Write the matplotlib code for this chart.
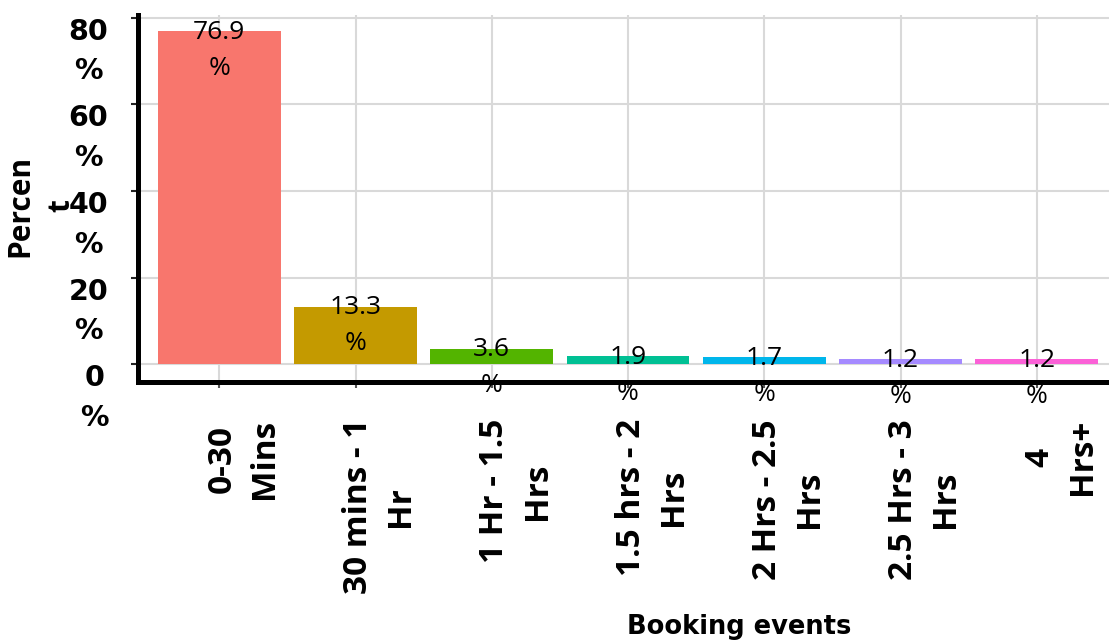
import matplotlib.pyplot as plt
from matplotlib.transforms import ScaledTranslation

categories = ["0-30 Mins", "30 mins - 1 Hr", "1 Hr - 1.5 Hrs", "1.5 hrs - 2 Hrs",
              "2 Hrs - 2.5 Hrs", "2.5 Hrs - 3 Hrs", "4 Hrs+"]
tick_labels = ["0-30\nMins", "30 mins - 1\nHr", "1 Hr - 1.5\nHrs", "1.5 hrs - 2\nHrs",
               "2 Hrs - 2.5\nHrs", "2.5 Hrs - 3\nHrs", "4\nHrs+"]
percent = [76.9, 13.3, 3.6, 1.9, 1.7, 1.2, 1.2]
colors = ["#F8766D", "#C49A00", "#53B400", "#00C094", "#00B6EB", "#A58AFF", "#FB61D7"]
y_ticks = [0, 20, 40, 60, 80]
y_tick_labels = ["0\n%", "20\n%", "40\n%", "60\n%", "80\n%"]

W, H = 1109, 644
fig = plt.figure(figsize=(W / 100, H / 100), dpi=100)
ax = fig.add_axes([137.5 / W, 1 - 381.5 / H, 1 - 137.5 / W, (381.5 - 15) / H])

x = list(range(len(categories)))
ax.bar(x, percent, width=0.9, color=colors, zorder=2)
ax.set_xlim(-0.6, 6.53)
ax.set_ylim(-4, 80.6)

ax.grid(color='#d9d9d9', linewidth=1.5)
ax.set_axisbelow(True)
for s in ['top', 'right']:
    ax.spines[s].set_visible(False)
for s in ['left', 'bottom']:
    ax.spines[s].set_linewidth(3.6)
    ax.spines[s].set_color('black')
    ax.spines[s].set_zorder(3)

# y axis: percent ticks, wrapped labels
ax.set_yticks(y_ticks, y_tick_labels)
ax.tick_params(axis='y', length=5, width=1.5, color='#222222', pad=16)
for lab in ax.get_yticklabels():
    lab.set_family('DejaVu Sans')
    lab.set_fontsize(20.5)
    lab.set_fontweight('bold')
    lab.set_va('top')
    lab.set_multialignment('center')
    lab.set_linespacing(1.54)

# x axis: rotated, wrapped category labels, first line centred on the tick
ax.set_xticks(x, tick_labels)
ax.tick_params(axis='x', length=4, width=1.5, color='#555555', pad=23)
shift = ScaledTranslation(-0.134, 0, fig.dpi_scale_trans)
for lab in ax.get_xticklabels():
    lab.set_family('Open Sans')
    lab.set_fontsize(24)
    lab.set_fontweight('bold')
    lab.set_rotation(90)
    lab.set_rotation_mode('anchor')
    lab.set_ha('right')
    lab.set_va('top')
    lab.set_multialignment('center')
    lab.set_linespacing(1.37)
    lab.set_transform(lab.get_transform() + shift)

# value labels at bar tops
for xi, v in zip(x, percent):
    ax.annotate(f"{v}\n%", (xi, v), xytext=(0, 8), textcoords='offset points',
                ha='center', va='top', family='Open Sans', fontsize=19,
                linespacing=1.58, zorder=5, annotation_clip=False)

ax.set_ylabel("Percen\nt", family='Open Sans', fontsize=21.5, fontweight='bold',
              va='center', linespacing=1.49)
ax.yaxis.set_label_coords((41 - 137.5) / (W - 137.5), (381.5 - 206) / (381.5 - 15))
ax.set_xlabel("Booking events", family='DejaVu Sans', fontsize=18.5,
              fontweight='bold', va='baseline')
ax.xaxis.set_label_coords((739 - 137.5) / (W - 137.5), (381.5 - 634) / (381.5 - 15))

fig.savefig("out.png", dpi=100)
